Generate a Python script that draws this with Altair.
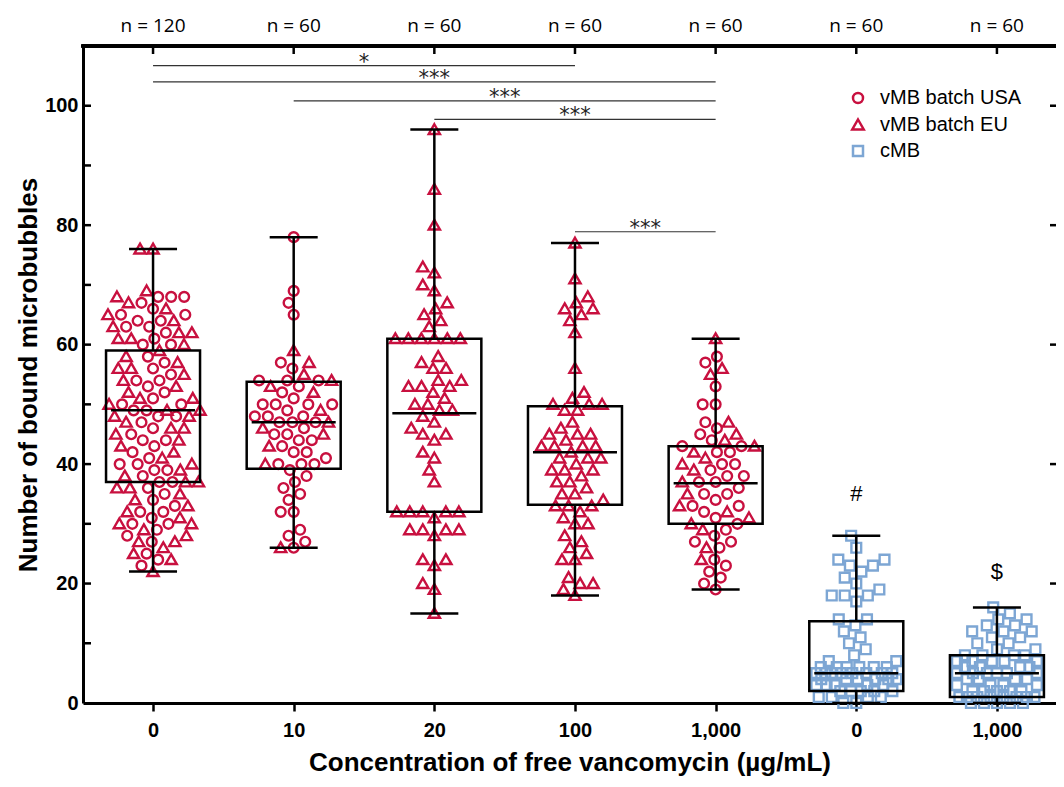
import math
import json
import altair as alt
import pandas as pd

# ---------------- data ----------------
CATEGORY_LABELS = ["0", "10", "20", "100", "1,000", "0", "1,000"]
N_LABELS = ["n = 120", "n = 60", "n = 60", "n = 60", "n = 60", "n = 60", "n = 60"]
SERIES = ["vMB batch USA", "vMB batch EU", "cMB"]
SERIES_COLORS = ["#C8103F", "#C8103F", "#7DA6D4"]
TRIANGLE = "M0,-1.1L1.15,0.9L-1.15,0.9Z"
SERIES_SHAPES = ["circle", TRIANGLE, "square"]

G0_USA = [68, 68, 68, 67, 66, 65, 65, 64, 64, 63, 63, 62, 61, 60, 60, 58, 57, 56, 55, 54,
          54, 53, 52, 51, 50, 50, 49, 49, 48, 48, 47, 46, 45, 44, 44, 43, 42, 41, 40, 40,
          39, 39, 38, 37, 37, 36, 35, 34, 33, 32, 32, 31, 30, 30, 29, 28, 27, 25, 24, 23]
G0_EU = [76, 76, 69, 68, 67, 66, 65, 64, 63, 62, 62, 61, 61, 60, 59, 58, 57, 56, 56, 55,
         54, 53, 52, 51, 51, 50, 49, 49, 48, 48, 47, 46, 46, 45, 44, 43, 42, 41, 40, 39,
         38, 37, 37, 36, 36, 35, 34, 33, 32, 31, 30, 30, 29, 28, 27, 27, 26, 25, 24, 22]
G1_USA = [78, 69, 67, 65, 57, 56, 54, 54, 54, 53, 52, 51, 50, 50, 50, 50, 49, 48, 48, 48,
          47, 47, 47, 46, 45, 45, 44, 44, 43, 42, 42, 41, 40, 40, 40, 39, 38, 37, 36, 35,
          34, 32, 32, 29, 28, 27, 26]
G1_EU = [59, 57, 55, 54, 53, 52, 49, 47, 46, 45, 43, 40, 26]
G2_EU = [96, 86, 80, 73, 72, 70, 69, 67, 66, 65, 64, 63, 61, 61, 61, 61, 61, 61, 58, 57,
         56, 56, 54, 54, 53, 53, 53, 52, 51, 50, 50, 49, 49, 48, 47, 46, 45, 45, 44, 42,
         41, 39, 37, 32, 32, 32, 32, 32, 31, 29, 29, 29, 29, 28, 24, 24, 23, 20, 19, 15]
G3_EU = [77, 71, 68, 67, 66, 66, 65, 64, 62, 56, 52, 51, 50, 50, 50, 49, 49, 47, 46, 45,
         45, 45, 44, 43, 43, 43, 43, 42, 41, 41, 41, 40, 39, 39, 39, 38, 37, 37, 36, 35,
         35, 34, 33, 33, 33, 32, 31, 30, 30, 28, 27, 26, 25, 24, 24, 21, 20, 20, 19, 18]
G4_USA = [58, 57, 53, 50, 50, 47, 46, 45, 44, 43, 43, 42, 42, 40, 40, 39, 38, 38, 37, 37,
          36, 35, 35, 34, 33, 33, 32, 31, 30, 29, 28, 27, 27, 26, 24, 23, 22, 21, 20, 19]
G4_EU = [61, 56, 55, 47, 45, 44, 43, 42, 41, 40, 39, 37, 35, 33, 32, 31, 30, 29, 26, 24]
G5_CMB = [28, 26, 24, 24, 23, 23, 22, 21, 20, 19, 18, 18, 18, 17, 14, 14, 13, 12, 11, 10,
          9, 8, 7, 7, 6, 6, 6, 6, 6, 6, 5, 5, 5, 5, 5, 5, 5, 5, 4, 4,
          4, 4, 4, 4, 3, 3, 3, 3, 3, 2, 2, 2, 2, 2, 1, 1, 1, 1, 0, 0]
G6_CMB = [16, 15, 14, 14, 13, 13, 12, 12, 12, 11, 11, 10, 10, 9, 9, 8, 8, 8, 8, 7,
          7, 7, 7, 7, 6, 6, 6, 6, 5, 5, 5, 5, 5, 5, 4, 4, 4, 4, 3, 3,
          3, 3, 2, 2, 2, 2, 2, 1, 1, 1, 1, 1, 1, 1, 1, 0, 0, 0, 0, 0]

GROUPS = [
    [("vMB batch USA", G0_USA), ("vMB batch EU", G0_EU)],
    [("vMB batch USA", G1_USA), ("vMB batch EU", G1_EU)],
    [("vMB batch EU", G2_EU)],
    [("vMB batch EU", G3_EU)],
    [("vMB batch USA", G4_USA), ("vMB batch EU", G4_EU)],
    [("cMB", G5_CMB)],
    [("cMB", G6_CMB)],
]

BOX_MIN = [22, 26, 15, 18, 19, 0, 0]
BOX_Q1 = [37, 39.2, 32, 33.2, 30, 2, 1]
BOX_MED = [49, 47, 48.5, 42, 36.8, 5, 5]
BOX_Q3 = [59, 53.8, 61, 49.7, 43, 13.7, 8]
BOX_MAX = [76, 78, 96, 77, 61, 28, 16]

SIG_FROM = [0, 0, 1, 2, 3]
SIG_TO = [3, 4, 4, 4, 4]
SIG_Y = [106.7, 104.0, 100.8, 97.7, 78.9]
SIG_TEXT = ["*", "***", "***", "***", "***"]

NOTE_IDX = [5, 6]
NOTE_Y = [35, 22]
NOTE_TEXT = ["#", "$"]

Y_LABEL_TICKS = [0, 20, 40, 60, 80, 100]
Y_INNER_TICKS = [10, 20, 30, 40, 50, 60, 70, 80, 90, 100]
RIGHT_TICKS = [20, 40, 60, 80, 100]

X_TITLE = "Concentration of free vancomycin (µg/mL)"
Y_TITLE = "Number of bound microbubbles"

# ---------------- layout ----------------
W, H = 973, 657
X_DOMAIN = [-0.498, 6.42]
Y_DOMAIN = [0, 110]
PX_X = W / (X_DOMAIN[1] - X_DOMAIN[0])
PX_Y = H / (Y_DOMAIN[1] - Y_DOMAIN[0])
SWARM_D = 13.0
SWARM_MAXW = [47, 41, 41, 41, 41, 40, 40]
BOX_HALF = 47 / PX_X
MED_HALF = 42 / PX_X
CAP_HALF = 24 / PX_X

FONT = "Liberation Sans"


def swarm(values, d, maxw):
    order = sorted(range(len(values)), key=lambda i: (values[i], i))
    placed = []
    out = [0.0] * len(values)
    for i in order:
        y = values[i] * PX_Y
        near = [(px, py) for px, py in placed if abs(py - y) < d]
        cands = {0.0}
        for px, py in near:
            dx = math.sqrt(max(d * d - (py - y) ** 2, 0.0))
            cands.add(px + dx)
            cands.add(px - dx)
        best = None
        for c in sorted(cands, key=lambda c: (abs(c), c)):
            if abs(c) > maxw:
                continue
            if all((c - px) ** 2 + (y - py) ** 2 >= d * d - 1e-6 for px, py in near):
                best = c
                break
        if best is None:
            grid = [k * 0.5 for k in range(int(-2 * maxw), int(2 * maxw) + 1)]
            best = max(grid, key=lambda c: (min((c - px) ** 2 + (y - py) ** 2 for px, py in near), -abs(c)))
        placed.append((best, y))
        out[i] = best
    return out


rows = []
for gi, members in enumerate(GROUPS):
    vals, labs = [], []
    for name, arr in members:
        vals += arr
        labs += [name] * len(arr)
    offs = swarm(vals, SWARM_D, SWARM_MAXW[gi])
    for v, s, o in zip(vals, labs, offs):
        rows.append({"x": gi + o / PX_X, "y": v, "series": s})
points = pd.DataFrame(rows)

box = pd.DataFrame({"idx": list(range(7)), "mn": BOX_MIN, "q1": BOX_Q1, "med": BOX_MED,
                    "q3": BOX_Q3, "mx": BOX_MAX})
box["lo"] = box["idx"] - BOX_HALF
box["hi"] = box["idx"] + BOX_HALF
box["mlo"] = box["idx"] - MED_HALF
box["mhi"] = box["idx"] + MED_HALF
box["clo"] = box["idx"] - CAP_HALF
box["chi"] = box["idx"] + CAP_HALF

cats = pd.DataFrame({"idx": list(range(7)), "n": N_LABELS})
sig = pd.DataFrame({"a": SIG_FROM, "b": SIG_TO, "y": SIG_Y, "t": SIG_TEXT})
sig["mid"] = (sig["a"] + sig["b"]) / 2
notes = pd.DataFrame({"idx": NOTE_IDX, "y": NOTE_Y, "t": NOTE_TEXT})
inner = pd.DataFrame({"v": Y_INNER_TICKS})
rticks = pd.DataFrame({"v": RIGHT_TICKS})

XSCALE = alt.Scale(domain=X_DOMAIN, nice=False, zero=False)
YSCALE = alt.Scale(domain=Y_DOMAIN, nice=False)

label_expr = json.dumps(CATEGORY_LABELS) + "[datum.value]"
XAXIS = alt.Axis(values=list(range(7)), labelExpr=label_expr, tickSize=8, tickWidth=2.5,
                 tickColor="black", domainWidth=3, domainColor="black", labelFont=FONT,
                 labelFontSize=20, labelFontWeight="bold", labelColor="black", labelPadding=9,
                 labelAngle=0, titleFont=FONT, titleFontSize=26, titleFontWeight="bold",
                 titleColor="black", titlePadding=9, grid=False)
YAXIS = alt.Axis(values=Y_LABEL_TICKS, ticks=False, tickSize=0, domainWidth=3, domainColor="black",
                 labelFont=FONT, labelFontSize=20, labelFontWeight="bold", labelColor="black",
                 labelPadding=5, titleFont=FONT, titleFontSize=26, titleFontWeight="bold",
                 titleColor="black", titlePadding=3, grid=False, format="d")


def X(f):
    return alt.X(f, type="quantitative", scale=XSCALE, axis=XAXIS, title=X_TITLE)


def Y(f):
    return alt.Y(f, type="quantitative", scale=YSCALE, axis=YAXIS, title=Y_TITLE)


legend = alt.Legend(orient="none", legendX=765, legendY=42, title=None, labelFont=FONT,
                    labelFontSize=20, labelColor="black", symbolSize=100, symbolStrokeWidth=2.5,
                    rowPadding=6, labelOffset=12)

pts = alt.Chart(points).mark_point(filled=False, strokeWidth=2.4, size=95, opacity=1).encode(
    x=X("x"), y=Y("y"),
    color=alt.Color("series:N", scale=alt.Scale(domain=SERIES, range=SERIES_COLORS), legend=legend),
    shape=alt.Shape("series:N", scale=alt.Scale(domain=SERIES, range=SERIES_SHAPES), legend=legend),
)

LINE = dict(color="black", strokeWidth=2.5)
wh_lo = alt.Chart(box).mark_rule(**LINE).encode(x=X("idx"), y=Y("mn"), y2="q1")
wh_hi = alt.Chart(box).mark_rule(**LINE).encode(x=X("idx"), y=Y("q3"), y2="mx")
cap_lo = alt.Chart(box).mark_rule(**LINE).encode(x=X("clo"), x2="chi", y=Y("mn"))
cap_hi = alt.Chart(box).mark_rule(**LINE).encode(x=X("clo"), x2="chi", y=Y("mx"))
rect = alt.Chart(box).mark_rect(fillOpacity=0, stroke="black", strokeWidth=2.5).encode(
    x=X("lo"), x2="hi", y=Y("q1"), y2="q3")
med = alt.Chart(box).mark_rule(**LINE).encode(x=X("mlo"), x2="mhi", y=Y("med"))

sig_lines = alt.Chart(sig).mark_rule(color="#333333", strokeWidth=1.2).encode(
    x=X("a"), x2="b", y=Y("y"))
sig_text = alt.Chart(sig).mark_text(font="DejaVu Sans", fontSize=21, color="#222222",
                                    baseline="middle", dy=-3).encode(x=X("mid"), y=Y("y"), text="t")
note_text = alt.Chart(notes).mark_text(font=FONT, fontSize=22, color="black",
                                       baseline="middle").encode(x=X("idx"), y=Y("y"), text="t")
n_text = alt.Chart(cats).mark_text(font="Open Sans", fontSize=19, color="black",
                                   baseline="middle").encode(x=X("idx"), y=alt.value(-20), text="n")

top_line = alt.Chart(cats).mark_rule(color="black", strokeWidth=3, strokeCap="square").encode(
    x=alt.value(0), x2=alt.value(W), y=alt.value(0))
top_ticks = alt.Chart(cats).mark_rule(**LINE).encode(x=X("idx"), y=alt.value(0), y2=alt.value(8))
left_ticks = alt.Chart(inner).mark_rule(**LINE).encode(x=alt.value(0), x2=alt.value(8), y=Y("v"))
right_ticks = alt.Chart(rticks).mark_rule(**LINE).encode(x=alt.value(W - 6), x2=alt.value(W), y=Y("v"))

chart = alt.layer(
    pts, wh_lo, wh_hi, cap_lo, cap_hi, rect, med, sig_lines, sig_text, note_text, n_text,
    top_line, top_ticks, left_ticks, right_ticks,
).properties(
    width=W, height=H,
    autosize=alt.AutoSizeParams(type="none"),
    padding={"left": 75, "top": 38, "right": 0, "bottom": 73},
).configure_view(stroke=None).configure(background="white")

chart.save("out.html", embed_options={"renderer": "svg", "actions": False})
